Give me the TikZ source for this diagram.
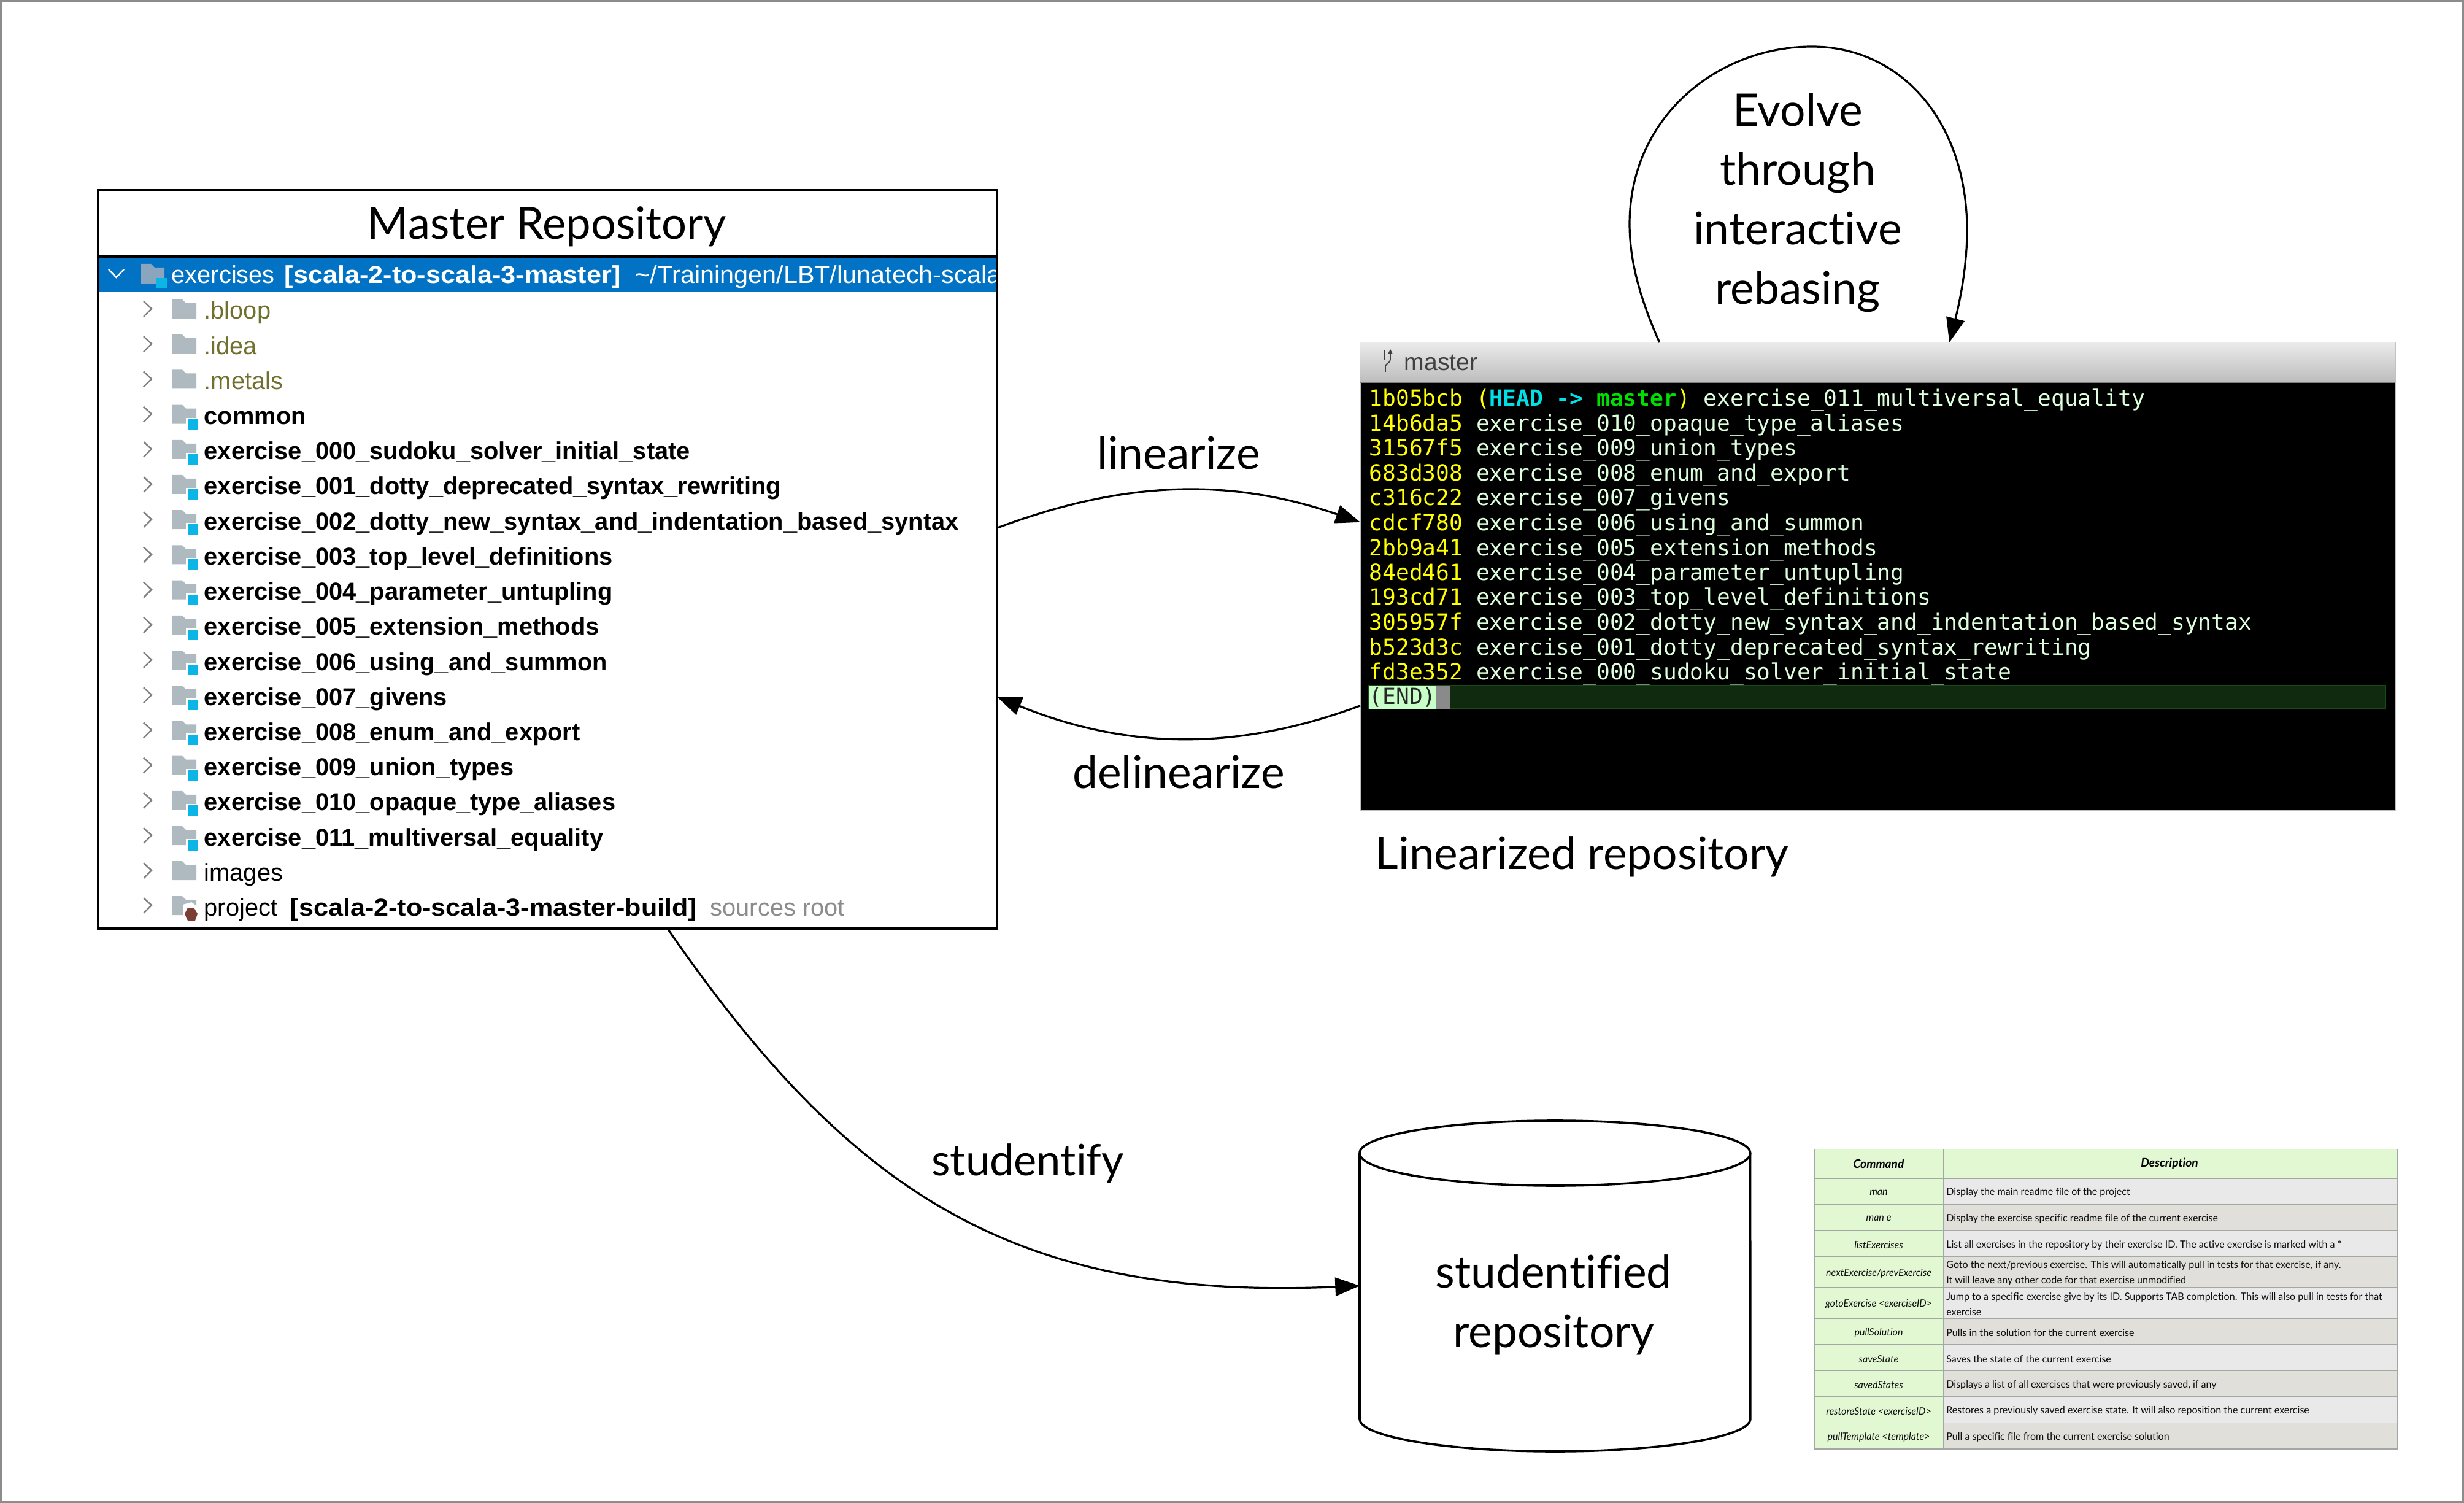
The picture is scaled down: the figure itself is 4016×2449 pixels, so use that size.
\documentclass[tikz,border=0pt]{standalone}
\usepackage{fontspec}
\usetikzlibrary{arrows.meta,shadings}
\setmainfont[Ligatures=NoCommon]{Lato}
\newfontfamily\treefont{Liberation Sans}
\newfontfamily\termfont{DejaVu Sans Mono}
\newfontfamily\tblfont[FakeStretch=0.98,Ligatures=NoCommon]{Lato}
\newfontfamily\barfont{Liberation Sans}
\definecolor{bandblue}{HTML}{0272C4}
\definecolor{foldgray}{HTML}{AEB9C0}
\definecolor{foldblue}{HTML}{8AA5BE}
\definecolor{badgeblue}{HTML}{0BB5E5}
\definecolor{olivetxt}{HTML}{70702F}
\definecolor{chev}{HTML}{808080}
\definecolor{rootgray}{HTML}{8C8C8C}
\definecolor{hashyel}{HTML}{FFFF00}
\definecolor{termtxt}{HTML}{DEFFDE}
\definecolor{headcyan}{HTML}{00E0E8}
\definecolor{mastergreen}{HTML}{00E000}
\definecolor{endbar}{HTML}{0F2A0F}
\definecolor{endline}{HTML}{1A4A1A}
\definecolor{endtag}{HTML}{C8FFC8}
\definecolor{cursorgray}{HTML}{8A8A8A}
\definecolor{tblgreen}{HTML}{E2F8D2}
\definecolor{tblgrayA}{HTML}{E9E9E9}
\definecolor{tblgrayB}{HTML}{E0DFDA}
\definecolor{tblline}{HTML}{A3A8A3}
\definecolor{projbrown}{HTML}{7A3E35}
\tikzset{
  conn/.style={line width=0.8pt,-{Triangle[length=10pt,width=7.5pt]}},
  biglabel/.style={font=\fontsize{18.3}{24.2}\selectfont,inner sep=0pt,align=center},
  rowtext/.style={font=\treefont\fontsize{9.95}{12}\selectfont,anchor=base west,inner sep=0pt},
  termline/.style={font=\termfont\fontsize{9.05}{11}\selectfont,anchor=base west,inner sep=0pt,text=termtxt},
  tblcmd/.style={font=\tblfont\itshape\fontsize{4.1}{6.25}\selectfont,inner sep=0pt,text=black!95},
  tbldesc/.style={font=\tblfont\fontsize{4.1}{6.25}\selectfont,inner sep=0pt,anchor=west,align=left,text=black!95},
  tblhead/.style={font=\tblfont\bfseries\itshape\fontsize{4.9}{6.25}\selectfont,inner sep=0pt},
  tblcell/.style={draw=tblline,line width=0.4pt},
  pics/foldericon/.style={code={
    \fill[#1] (0,-19) -- (17,-19) -- (23,-13) -- (40,-13) -- (40,12) -- (0,12) -- cycle;}},
  pics/badgeicon/.style={code={
    \fill[white] (23,2) rectangle (45,24);
    \fill[badgeblue] (26,4) rectangle (43,21);}},
  pics/chevronicon/.style={code={
    \draw[chev,line width=0.6pt] (0,-16) -- (13,-4) -- (0,9);}},
}
% table row: id, top y, bottom y, command, description, description fill
\newcommand\tblrow[6]{%
  \path[fill=tblgreen,tblcell] (2957,#2) rectangle (3168,#3);
  \path[fill=#6,tblcell] (3168,#2) rectangle (3907,#3);
  \node[tblcmd] (cmd#1) at (3062,{(#2+#3)/2+2}) {#4};
  \node[tbldesc] (desc#1) at (3171.5,{(#2+#3)/2+2}) {#5};
}
\begin{document}
\begin{tikzpicture}[x=0.25pt,y=-0.25pt]
\useasboundingbox (0,0) rectangle (4016,2449);
\fill[white] (0,0) rectangle (4016,2449);
\draw[gray!90,line width=0.8pt] (2,2) rectangle (4014,2447);

% master repository box
\node[draw=black,line width=1.1pt,fill=white,outer sep=0pt,inner sep=0pt,minimum width=366.25pt,minimum height=300.75pt] (master) at (892.5,911.5) {};
\node[inner sep=0pt,font=\fontsize{18.1}{20}\selectfont] (mtitle) at (891,369) {Master Repository};
\fill[black] (160,416) rectangle (1625,420);
\fill[bandblue] (162,421) rectangle (1623,476);
\begin{scope}
  \clip (162,421) rectangle (1623,476);
  \node[rowtext,text=white] (mroot) at (279,462) {exercises};
  \node[rowtext,text=white] (mrootb) at (463,462) {\scalebox{1.086}[1]{\textbf{[scala-2-to-scala-3-master]}}};
  \node[rowtext,text=white] (mpath) at (1035,462) {\scalebox{1.04}[1]{\textasciitilde/Trainingen/LBT/lunatech-scala-2-to-scala-3}};
\end{scope}
\draw[white,line width=0.6pt] (177,439) -- (189.5,452) -- (202,439);
\fill[foldblue] (229,430) -- (246,430) -- (252,436) -- (268,436) -- (268,462) -- (229,462) -- cycle;
\fill[badgeblue] (255,453) rectangle (272,470);

\foreach \i/\t/\k in {0/.bloop/0,1/.idea/0,2/.metals/0,3/common/1,
  4/exercise\_000\_sudoku\_solver\_initial\_state/1,
  5/exercise\_001\_dotty\_deprecated\_syntax\_rewriting/1,
  6/exercise\_002\_dotty\_new\_syntax\_and\_indentation\_based\_syntax/1,
  7/exercise\_003\_top\_level\_definitions/1,
  8/exercise\_004\_parameter\_untupling/1,
  9/exercise\_005\_extension\_methods/1,
  10/exercise\_006\_using\_and\_summon/1,
  11/exercise\_007\_givens/1,
  12/exercise\_008\_enum\_and\_export/1,
  13/exercise\_009\_union\_types/1,
  14/exercise\_010\_opaque\_type\_aliases/1,
  15/exercise\_011\_multiversal\_equality/1,
  16/images/2}{
  \pgfmathsetmacro\rowy{507+57.2*\i}
  \pic at (234,\rowy) {chevronicon};
  \pic at (280,\rowy) {foldericon=foldgray};
  \ifnum\k=1
    \pic at (280,\rowy) {badgeicon};
    \node[rowtext,font=\treefont\bfseries\fontsize{9.95}{12}\selectfont] (row\i) at (332,\rowy+13) {\t};
  \else\ifnum\k=0
    \node[rowtext,text=olivetxt] (row\i) at (332,\rowy+13) {\t};
  \else
    \node[rowtext] (row\i) at (332,\rowy+13) {\t};
  \fi\fi
}
\pic at (234,1479) {chevronicon};
\pic at (280,1479) {foldericon=foldgray};
\fill[white] (298,1474) -- (312,1470) -- (326,1480) -- (326,1505) -- (298,1505) -- cycle;
\fill[projbrown] (306,1479) -- (316,1479) -- (322,1489) -- (318,1500) -- (306,1500) -- (301,1489) -- cycle;
\node[rowtext] (row17) at (332,1492) {project};
\node[rowtext] (row17b) at (472,1492) {\scalebox{1.083}[1]{\textbf{[scala-2-to-scala-3-master-build]}}};
\node[rowtext,text=rootgray] (row17c) at (1157,1492) {sources root};

% linearized terminal
\node[draw=gray!50,line width=0.3pt,fill=black,outer sep=0pt,inner sep=0pt,minimum width=421.75pt,minimum height=190.75pt] (term) at (3060.5,939.5) {};
\shade[top color=black!8,bottom color=black!26] (2217,558) rectangle (3904,623);
\draw[gray,line width=0.3pt] (2217,623) -- (3904,623);
\draw[black!75,line width=0.45pt] (2257,571) -- (2257,586) (2258,606) -- (2258,597) .. controls (2258,592) and (2266,592) .. (2266,586) -- (2266,573);
\fill[black!75] (2266,569) -- (2270,577) -- (2262,577) -- cycle;
\node[inner sep=0pt,anchor=base west,text=black!75,font=\barfont\fontsize{9.8}{11}\selectfont] (tbar) at (2288,604) {master};
\foreach \i/\h/\t in {
  1/14b6da5/exercise\_010\_opaque\_type\_aliases,
  2/31567f5/exercise\_009\_union\_types,
  3/683d308/exercise\_008\_enum\_and\_export,
  4/c316c22/exercise\_007\_givens,
  5/cdcf780/exercise\_006\_using\_and\_summon,
  6/2bb9a41/exercise\_005\_extension\_methods,
  7/84ed461/exercise\_004\_parameter\_untupling,
  8/193cd71/exercise\_003\_top\_level\_definitions,
  9/305957f/exercise\_002\_dotty\_new\_syntax\_and\_indentation\_based\_syntax,
  10/b523d3c/exercise\_001\_dotty\_deprecated\_syntax\_rewriting,
  11/fd3e352/exercise\_000\_sudoku\_solver\_initial\_state}{
  \node[termline] (line\i) at (2231,662+40.5*\i) {\textcolor{hashyel}{\h} \t};
}
\node[termline] (line0) at (2231,662) {\textcolor{hashyel}{1b05bcb (\textcolor{headcyan}{\textbf{HEAD -> }}\textcolor{mastergreen}{\textbf{master}})} exercise\_011\_multiversal\_equality};
\path[fill=endbar,draw=endline,line width=0.4pt] (2231,1116.5) rectangle (3888,1155);
\fill[cursorgray] (2341,1116.5) rectangle (2363,1155);
\fill[endtag] (2231,1116.5) rectangle (2341,1155);
\node[text=black!85,font=\termfont\fontsize{9.05}{11}\selectfont,inner sep=0pt,anchor=base west] (endtagn) at (2231,1148) {(END)};

% labels
\node[biglabel] (llin) at (1921,738) {linearize};
\node[biglabel] (ldel) at (1921,1258) {delinearize};
\node[biglabel,font=\fontsize{17.6}{24.2}\selectfont] (lstu) at (1675,1896) {studentify};
\node[biglabel,anchor=west] (lrep) at (2241,1396) {Linearized repository};
\node[biglabel] (levo) at (2930,330) {Evolve\\through\\interactive\\rebasing};

% studentified repository cylinder
\node[fill=white,outer sep=0pt,inner sep=0pt,minimum width=159.1pt,minimum height=134.9pt] (db) at (2534.5,2095) {};
\node[biglabel] (dbtext) at (2532,2126) {studentified\\repository};
\draw[line width=0.9pt] (2216,1879) -- (2216,2312) arc[start angle=180,end angle=360,x radius=79.6pt,y radius=13.25pt] -- (2852.6,1879);
\draw[line width=0.9pt] (2534.3,1879) ellipse[x radius=79.6pt,y radius=13.25pt];

% connectors
\draw[conn] (master.4.56) .. controls (1840,780) and (2010,780) .. (term.174.14);
\draw[conn] (term.194.33) .. controls (2020,1223) and (1840,1223) .. (master.-17.46);
\draw[conn] (master.-72.34) .. controls (1384,1941) and (1650,2120) .. (db.west);
\draw[conn] (term.133.4) .. controls (2670,480) and (2656,420) .. (2656,365)
  .. controls (2656,190) and (2800,76) .. (2953,76)
  .. controls (3100,76) and (3206,200) .. (3206,375)
  .. controls (3206,440) and (3192,500) .. (term.73.16);

% command table
\tblrow{H}{1872.3}{1920}{}{}{tblgreen}
\node[tblhead] (hcmd) at (3062,1896) {Command};
\node[tblhead] (hdesc) at (3536,1896) {Description};
\tblrow{1}{1920}{1962.5}{man}{Display the main readme file of the project}{tblgrayA}
\tblrow{2}{1962.5}{2005}{man e}{Display the exercise specific readme file of the current exercise}{tblgrayB}
\tblrow{3}{2005}{2047.4}{listExercises}{List all exercises in the repository by their exercise ID. The active exercise is marked with a \textbf{*}}{tblgrayA}
\tblrow{4}{2047.4}{2097.8}{nextExercise/prevExercise}{Goto the next/previous exercise. This will automatically pull in tests for that exercise, if any.\\It will leave any other code for that exercise unmodified}{tblgrayB}
\tblrow{5}{2097.8}{2148.9}{gotoExercise <exerciseID>}{Jump to a specific exercise give by its ID. Supports TAB completion. This will also pull in tests for that\\exercise}{tblgrayA}
\tblrow{6}{2148.9}{2191}{pullSolution}{Pulls in the solution for the current exercise}{tblgrayB}
\tblrow{7}{2191}{2233.5}{saveState}{Saves the state of the current exercise}{tblgrayA}
\tblrow{8}{2233.5}{2276.2}{savedStates}{Displays a list of all exercises that were previously saved, if any}{tblgrayB}
\tblrow{9}{2276.2}{2318.4}{restoreState <exerciseID>}{Restores a previously saved exercise state. It will also reposition the current exercise}{tblgrayA}
\tblrow{10}{2318.4}{2360.8}{pullTemplate <template>}{Pull a specific file from the current exercise solution}{tblgrayB}
\end{tikzpicture}
\end{document}
